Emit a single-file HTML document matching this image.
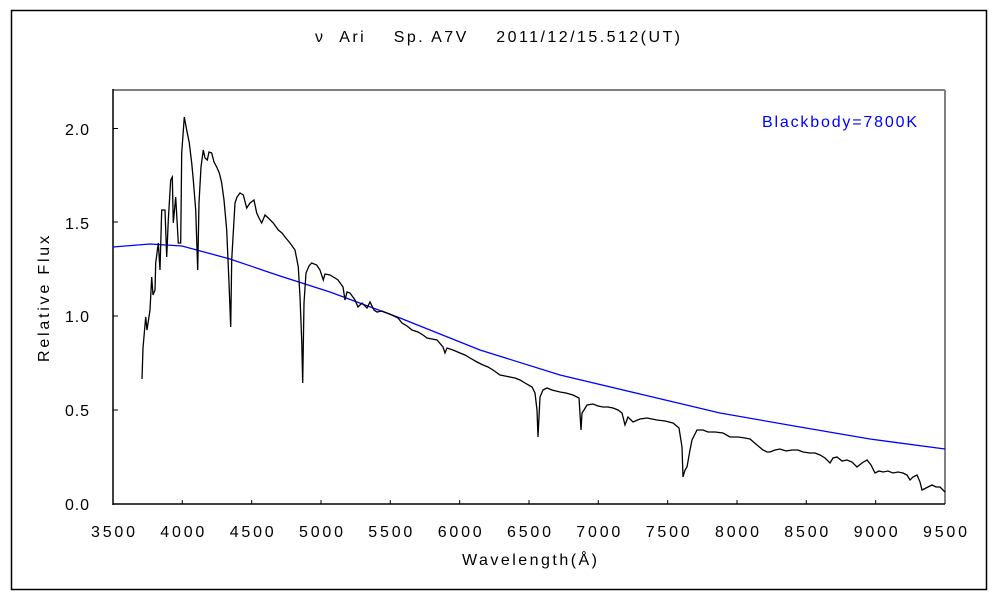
<!DOCTYPE html>
<html><head><meta charset="utf-8"><style>
html,body{margin:0;padding:0;background:#fff;}
svg{display:block;}
text{font-family:"Liberation Sans","Noto Sans CJK JP",sans-serif;font-size:16px;fill:#000;}
</style></head><body>
<svg width="1000" height="600" viewBox="0 0 1000 600">
<rect x="11.5" y="10.5" width="975" height="579" fill="none" stroke="#000" stroke-width="1.5"/>
<text x="315" y="42" textLength="365" lengthAdjust="spacing" xml:space="preserve" style="white-space:pre">ν  Ari    Sp. A7V    2011/12/15.512(UT)</text>
<line x1="113" y1="90" x2="945" y2="90" stroke="#808080" stroke-width="2"/>
<line x1="945" y1="90" x2="945" y2="504" stroke="#808080" stroke-width="2"/>
<line x1="113" y1="89" x2="113" y2="505" stroke="#000" stroke-width="1.5"/>
<line x1="113" y1="504" x2="945" y2="504" stroke="#000" stroke-width="1.5"/>
<g stroke="#000" stroke-width="1">
<line x1="182.3" y1="504" x2="182.3" y2="500"/><line x1="251.7" y1="504" x2="251.7" y2="500"/>
<line x1="321" y1="504" x2="321" y2="500"/><line x1="390.3" y1="504" x2="390.3" y2="500"/>
<line x1="459.7" y1="504" x2="459.7" y2="500"/><line x1="529" y1="504" x2="529" y2="500"/>
<line x1="598.3" y1="504" x2="598.3" y2="500"/><line x1="667.7" y1="504" x2="667.7" y2="500"/>
<line x1="737" y1="504" x2="737" y2="500"/><line x1="806.3" y1="504" x2="806.3" y2="500"/>
<line x1="875.7" y1="504" x2="875.7" y2="500"/>
<line x1="113" y1="410" x2="118" y2="410"/><line x1="113" y1="316" x2="118" y2="316"/>
<line x1="113" y1="222" x2="118" y2="222"/><line x1="113" y1="128.5" x2="118" y2="128.5"/>
</g>
<g>
<text x="91" y="537" textLength="44">3500</text><text x="160.3" y="537" textLength="44">4000</text><text x="229.7" y="537" textLength="44">4500</text>
<text x="299" y="537" textLength="44">5000</text><text x="368.3" y="537" textLength="44">5500</text><text x="437.7" y="537" textLength="44">6000</text>
<text x="507" y="537" textLength="44">6500</text><text x="576.3" y="537" textLength="44">7000</text><text x="645.7" y="537" textLength="44">7500</text>
<text x="715" y="537" textLength="44">8000</text><text x="784.3" y="537" textLength="44">8500</text><text x="853.7" y="537" textLength="44">9000</text>
<text x="923" y="537" textLength="44">9500</text>
</g>
<g>
<text x="65" y="510" textLength="24">0.0</text><text x="65" y="416" textLength="24">0.5</text><text x="65" y="322" textLength="24">1.0</text>
<text x="65" y="229" textLength="24">1.5</text><text x="65" y="135" textLength="24">2.0</text>
</g>
<rect x="48" y="236" width="1" height="1" fill="#000"/>
<text x="462" y="565" textLength="135">Wavelength(Å)</text>
<text transform="translate(49,362) rotate(-90)" textLength="126">Relative Flux</text>
<text x="762" y="127" textLength="155" style="fill:#0000ff">Blackbody=7800K</text>
<polyline fill="none" stroke="#0000ff" stroke-width="1.3" points="113,247 150,244 182,246 230,259 280,276 330,292 400,318 480,350 560,375 640,394 720,413 800,427 870,439 945,449"/>
<polyline fill="none" stroke="#000" stroke-width="1.3" points="142,379 143,348 145.7,317 147,330 150,310 151.7,277 153,295 155,290 155.7,263 158.3,243 160,270 161.7,210 165,210 166.7,257 168.3,220 170.7,180 172.3,177 173.3,223 175.7,197 178.3,243 180.7,243 181.7,153 184.3,117 186.7,130 189.3,143 191.7,163 193.3,180 195.7,210 197.7,270 199,203 201,167 203.3,150 205,158 207.3,160 209,152 211.7,153 214,162 216.7,167 219.3,173 221.7,183 224,200 226.7,230 229,283 230.7,327 231.7,260 235,203 237,197 240,193 243.3,195 246.7,208 250,203 254,200 256.7,213 259,218 261.7,223 265,215 268.3,218 273.3,223 278.3,230 282,233 285,237 290,243 295,250 298.3,267 300,297 301.7,340 302.7,383 304,303 306,273 309,266 311.7,263 316.7,265 320,270 323.3,280 325,274 330,275 335,278 338,280 343,287 345,300 347,292 350,293 355,300 358,307 362,303 367,308 370,302 374,310 377,312 382,311 387,313 392,315 398,318 402,323 407,326 412,330 418,332 423,335 427,338 432,339 437,340 443,347 445,353 447,348 453,350 460,353 465,355 470,358 477,362 483,365 488,367 493,370 500,375 505,376 510,377 515,378 520,380 525,383 532,387 535,393 537,410 538,437 540,397 543,390 547,388 552,390 560,392 566,393 573,395 579,398 581,430 582,413 584,410 587,405 593,404 598,406 603,407 608,407 613,408 618,410 622,413 625,425 628,417 633,422 640,419 647,418 652,419 657,420 665,421 673,423 679,428 682,447 683,477 685,470 687,467 690,450 692,440 697,430 703,430 708,432 715,432 723,433 730,437 738,437 745,438 750,439 757,445 763,450 767,452 770,452 775,450 780,449 786,451 792,450 798,450 803,452 810,453 815,453 820,455 825,458 830,463 833,458 837,457 842,461 847,460 852,462 857,467 862,463 867,460 871,465 875,473 879,471 883,472 888,471 893,473 898,472 903,473 907,475 910,480 913,477 917,475 920,482 922,490 926,488 932,485 936,487 940,487 943,490 945,492"/>
</svg>
</body></html>
